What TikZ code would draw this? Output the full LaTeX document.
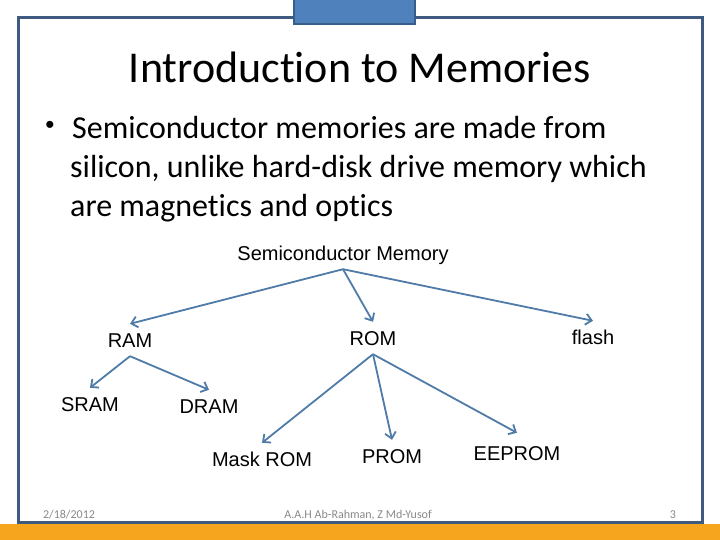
\documentclass[tikz,border=0pt]{standalone}
\usepackage{fontspec}
\setmainfont{Carlito}[Ligatures=NoCommon]
\newfontfamily\arialfont{Liberation Sans}
\usetikzlibrary{arrows.meta}
\definecolor{framecol}{RGB}{62,90,128}
\definecolor{tabcol}{RGB}{79,129,189}
\definecolor{tabline}{RGB}{56,93,138}
\definecolor{barcol}{RGB}{246,166,30}
\definecolor{arrowcol}{RGB}{79,123,168}
\definecolor{footcol}{RGB}{137,137,137}
\tikzset{
    % labels of the memory tree
    memnode/.style={
        font=\arialfont\fontsize{20}{24}\selectfont,
        anchor=base,
        text height=14pt,
        text depth=0pt,
        inner xsep=2pt,
        inner ysep=9pt
    },
    memarrow/.style={
        line width=1.8pt,
        arrowcol,
        -{Straight Barb[length=6pt, width=11pt]}
    },
    bodytext/.style={
        font=\fontsize{32}{38}\selectfont,
        anchor=base west,
        inner sep=0pt
    },
    foottext/.style={
        font=\fontsize{12}{14}\selectfont,
        footcol,
        anchor=base,
        inner sep=0pt
    }
}

\begin{document}
\begin{tikzpicture}[x=1pt, y=-1pt]
	\useasboundingbox (0,0) rectangle (720,540);
	\fill[white] (0,0) rectangle (720,540);
	\fill[barcol] (0,524) rectangle (720,540);
	\draw[framecol, line width=3pt] (18,18) rectangle (702,522);
	\draw[tabline, fill=tabcol, line width=2pt] (294,-5) rectangle (415,24);

	\node [font=\fontsize{44}{53}\selectfont, anchor=base] (title) at (360,83) {Introduction to Memories};

	\node [font=\arialfont\fontsize{26}{30}\selectfont, inner sep=0pt] (bullet) at (50,127) {\textbullet};
	\node [bodytext] (line1) at (72,139) {Semiconductor memories are made from};
	\node [bodytext] (line2) at (70,178) {silicon, unlike hard-disk drive memory which};
	\node [bodytext] (line3) at (70,216) {are magnetics and optics};

	\node [memnode] (semi) at (343,260) {Semiconductor Memory};
	\node [memnode] (ram) at (130,347) {RAM};
	\node [memnode] (rom) at (373,345) {ROM};
	\node [memnode] (flash) at (593,344) {flash};
	\node [memnode] (sram) at (90,411) {SRAM};
	\node [memnode] (dram) at (209,413) {DRAM};
	\node [memnode] (mask) at (262,466) {Mask ROM};
	\node [memnode] (prom) at (392,463) {PROM};
	\node [memnode] (eeprom) at (517,460) {EEPROM};

	\draw[memarrow] (semi.south) -- (ram.north);
	\draw[memarrow] (semi.south) -- (rom.north);
	\draw[memarrow] (semi.south) -- (flash.north);
	\draw[memarrow] (ram.south) -- (sram.north);
	\draw[memarrow] (ram.south) -- (dram.north);
	\draw[memarrow] (rom.south) -- (mask.north);
	\draw[memarrow] (rom.south) -- (prom.north);
	\draw[memarrow] (rom.south) -- ([yshift=4pt]eeprom.north);

	\node [foottext] (date) at (69,518) {2/18/2012};
	\node [foottext] (author) at (358,518) {A.A.H Ab-Rahman, Z Md-Yusof};
	\node [foottext] (page) at (673,518) {3};
\end{tikzpicture}
\end{document}
